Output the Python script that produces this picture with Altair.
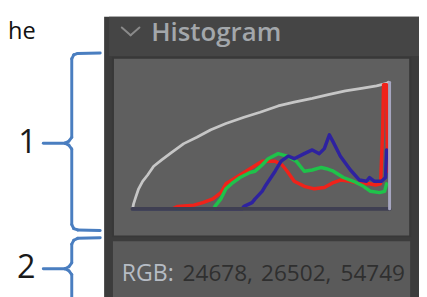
import altair as alt
import pandas as pd

# ---- histogram data: tone level (0-255) vs relative count (0-100) ----
red_level = [0, 40, 45, 61, 70, 80, 88, 93, 103, 109, 119, 129, 132, 142, 149, 154, 161, 171,
             181, 191, 200, 207, 217, 227, 236, 242, 247, 249, 250, 253, 254]
red_count = [0, 0, 2, 3, 5, 8, 13, 20, 25, 28, 33, 38, 38, 38, 35, 30, 22, 18,
             16, 17, 21, 23, 22, 20, 20, 19, 20, 60, 99, 99, 30]

green_level = [0, 81, 82, 88, 93, 100, 107, 117, 122, 129, 135, 145, 154, 163, 171, 179, 188,
               193, 200, 210, 220, 230, 237, 246, 251, 253]
green_count = [0, 0, 2, 8, 16, 21, 25, 29, 30, 35, 40, 44, 42, 38, 30, 31, 33,
               32, 30, 25, 22, 18, 14, 13, 14, 20]

blue_level = [0, 109, 111, 119, 122, 129, 132, 142, 148, 155, 161, 171, 179, 186, 191, 196, 200,
              207, 217, 226, 233, 236, 241, 248, 252, 253]
blue_count = [0, 0, 2, 5, 8, 14, 18, 30, 38, 42, 40, 44, 47, 44, 48, 59, 53,
              42, 31, 23, 22, 25, 22, 22, 25, 47]

curve_level = [0, 1, 3, 6, 10, 15, 21, 29, 39, 51, 64, 78, 93, 111, 127, 145, 161, 179, 195,
               212, 228, 243, 253, 255]
curve_value = [0, 4, 9, 16, 22, 27, 34, 39, 45, 52, 57, 63, 68, 73, 77, 82, 85, 88, 91,
               94, 96, 98, 100, 101]

# ---- texts ----
header_title = "Histogram"
rgb_label = "RGB:"
rgb_values = ["24678,", "26502,", "54749"]
callout_labels = ["1", "2"]
side_text = "he"

FONT = "Open Sans"
BRACE = "#4a7ec0"

base = alt.Chart(pd.DataFrame({"k": [0]}))


def rect(x1, y1, x2, y2, color, **kw):
    return base.mark_rect(color=color, **kw).encode(
        x=alt.value(x1), x2=alt.value(x2), y=alt.value(y1), y2=alt.value(y2))


def seg(x1, y1, x2, y2, color, w):
    return base.mark_rule(color=color, strokeWidth=w, strokeCap="round").encode(
        x=alt.value(x1), x2=alt.value(x2), y=alt.value(y1), y2=alt.value(y2))


def text(t, x, y, size, color, weight="normal", align="left"):
    return base.mark_text(text=t, font=FONT, fontSize=size, color=color, fontWeight=weight,
                          align=align, baseline="alphabetic").encode(
        x=alt.value(x), y=alt.value(y))


xs = alt.Scale(domain=[0, 255], range=[135, 396], zero=False, nice=False)
ys = alt.Scale(domain=[0, 100], range=[210, 82], zero=False, nice=False)


def series(levels, counts, color, width):
    df = pd.DataFrame({"level": levels, "count": counts})
    return alt.Chart(df).mark_line(color=color, strokeWidth=width, strokeJoin="round",
                                   strokeCap="round").encode(
        x=alt.X("level:Q", scale=xs, axis=None),
        y=alt.Y("count:Q", scale=ys, axis=None),
        order="level:Q")


layers = [
    # panel
    rect(106, 14, 430, 300, "#3c3c3c"),
    rect(111, 14, 430, 54, "#454545"),
    # histogram box
    rect(115, 56, 418, 238, "#5f5f5f", stroke="#383838", strokeWidth=2),
    # info box
    rect(115, 243, 418, 300, "#5a5a5a"),
    # chevron + title
    seg(124, 25, 133, 33, "#8a8a8a", 2),
    seg(133, 33, 142, 25, "#8a8a8a", 2),
    text(header_title, 154, 39, 26.3, "#a3a7ab", weight=600),
    # curves
    series(curve_level, curve_value, "#c6c6c6", 2.8),
    series(red_level, red_count, "#f0221a", 3.5),
    series(green_level, green_count, "#1fc24a", 3.5),
    series(blue_level, blue_count, "#2e22a0", 3.5),
    seg(135, 210, 397, 210, "#3f3f52", 4),
    seg(397, 81, 397, 210, "#a6a6c0", 3),
    # info text
    text(rgb_label, 124, 284, 23.5, "#b6bcc4"),
    text(rgb_values[0], 186, 284, 23, "#2f2f2f"),
    text(rgb_values[1], 266, 284, 23, "#2f2f2f"),
    text(rgb_values[2], 347, 284, 23, "#2f2f2f"),
    # left annotations
    text(side_text, 8, 37, 24, "#111111"),
    text(callout_labels[0], 28, 153, 33, "#1a1a1a", align="center"),
    text(callout_labels[1], 26.5, 280, 33, "#1a1a1a", align="center"),
]

brace_segs = [
    (102, 51, 79, 51.5), (79, 51.5, 75, 53), (75, 53, 73, 57), (73, 57, 73, 137),
    (73, 137, 70, 141), (70, 141, 66, 143), (66, 143, 44, 143), (66, 143, 70, 145),
    (70, 145, 73, 149), (73, 149, 73, 226), (73, 226, 75, 230), (75, 230, 79, 231.5),
    (79, 231.5, 102, 232),
    (102, 239.5, 79, 240), (79, 240, 75, 242), (75, 242, 73, 246), (73, 246, 73, 265),
    (73, 265, 70, 269), (70, 269, 66, 271), (66, 271, 44, 271), (66, 271, 70, 273),
    (70, 273, 73, 277), (73, 277, 73, 305),
]
for s in brace_segs:
    layers.append(seg(*s, BRACE, 3))

chart = alt.layer(*layers).properties(
    width=427, height=297,
    autosize=alt.AutoSizeParams(type="none"),
    padding={"left": -8, "top": -8, "right": 0, "bottom": 0},
    background="white",
).configure_view(stroke=None)

chart.save("out.html", embed_options={"renderer": "svg", "actions": False})
